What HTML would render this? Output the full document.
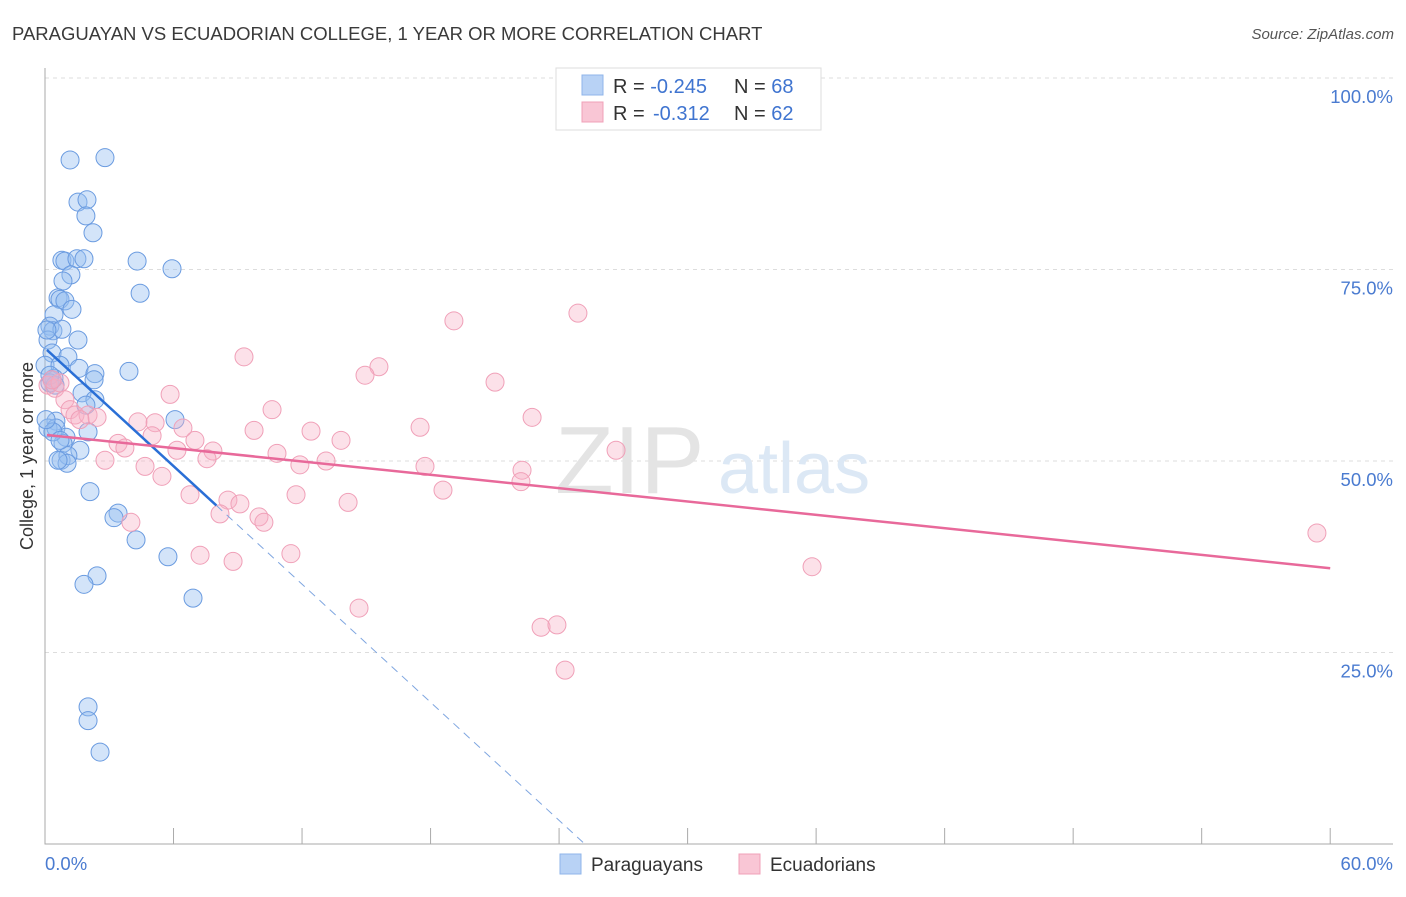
<!DOCTYPE html>
<html><head><meta charset="utf-8"><style>
body{margin:0;background:#fff;font-family:"Liberation Sans",sans-serif;}
svg text{font-family:"Liberation Sans",sans-serif;}
</style></head><body>
<svg id="chart" width="1406" height="892">
<text x="12" y="40" font-size="18.5" fill="#3a3a3a">PARAGUAYAN VS ECUADORIAN COLLEGE, 1 YEAR OR MORE CORRELATION CHART</text>
<text x="1394" y="39" font-size="15" fill="#555" font-style="italic" text-anchor="end">Source: ZipAtlas.com</text>
<g id="grid"></g>
<text x="555" y="493" font-size="96" fill="#e4e4e4" font-family="Liberation Serif">ZIP</text>
<text x="718" y="493" font-size="72" fill="#dce8f5">atlas</text>
<g id="marks"></g>
<text transform="translate(33,456) rotate(-90)" font-size="18" fill="#333" text-anchor="middle">College, 1 year or more</text>
<g>
<rect x="556" y="68" width="265" height="62" fill="#fff" stroke="#ddd"/>
<rect x="582" y="75" width="21" height="20" fill="#b8d2f5" stroke="#8fb4ea"/>
<rect x="582" y="102" width="21" height="20" fill="#f9c6d5" stroke="#f0a0b8"/>
<text x="613" y="93" font-size="20" fill="#333">R = <tspan fill="#3f74d0">-0.245</tspan><tspan x="734">N = </tspan><tspan fill="#3f74d0">68</tspan></text>
<text x="613" y="120" font-size="20" fill="#333">R = <tspan x="653" fill="#3f74d0">-0.312</tspan><tspan x="734">N = </tspan><tspan fill="#3f74d0">62</tspan></text>
</g>
<g>
<rect x="560" y="854" width="21" height="20" fill="#b8d2f5" stroke="#8fb4ea"/>
<text x="591" y="871" font-size="19" fill="#333">Paraguayans</text>
<rect x="739" y="854" width="21" height="20" fill="#f9c6d5" stroke="#f0a0b8"/>
<text x="770" y="871" font-size="19" fill="#333">Ecuadorians</text>
</g>
</svg>
<script>
const xTickLabels=["0.0%","60.0%"];
const yTicks=[25,50,75,100];
const yTickLabels=["25.0%","50.0%","75.0%","100.0%"];
const blueX=[1.17,2.80,1.54,1.96,1.91,2.24,0.79,0.93,1.49,1.82,4.30,5.93,1.21,0.84,4.44,0.61,0.70,0.93,1.26,0.42,0.23,0.37,0.79,1.54,0.14,0.33,1.07,0.0,0.70,1.59,2.33,2.29,3.92,0.42,0.23,0.47,1.73,2.33,1.91,6.07,0.51,0.14,0.51,2.01,0.98,0.84,1.63,0.75,1.07,1.03,2.10,3.41,3.22,4.25,5.74,2.43,1.82,6.91,2.01,2.01,2.57,0.37,0.23,0.33,0.61,0.05,0.09,0.70];
const blueY=[89.3,89.6,83.8,84.1,82.0,79.8,76.2,76.1,76.4,76.4,76.1,75.1,74.3,73.5,71.9,71.3,71.1,70.9,69.8,69.1,67.6,67.0,67.2,65.8,65.8,64.1,63.6,62.5,62.5,62.1,61.4,60.6,61.7,60.8,60.2,59.9,58.9,58.0,57.3,55.4,55.2,54.3,54.3,53.8,53.1,52.3,51.4,50.1,50.7,49.7,46.0,43.2,42.6,39.7,37.5,35.0,33.9,32.1,17.9,16.1,12.0,53.8,61.2,60.6,50.1,55.4,67.1,52.7];
const pinkX=[9.29,19.09,24.88,15.59,14.94,21.01,5.84,10.60,0.14,0.47,0.70,0.33,0.93,1.17,1.40,2.01,2.43,4.34,5.14,6.44,5.00,12.42,17.51,22.74,9.76,7.00,13.82,3.41,3.73,6.16,7.84,10.83,7.56,2.80,4.67,11.90,13.12,17.74,22.27,22.22,5.46,6.77,11.72,14.15,18.58,8.54,9.10,8.17,9.99,10.22,4.01,7.24,8.78,11.48,35.81,14.66,23.16,23.90,24.28,59.38,26.66,1.63];
const pinkY=[63.6,68.3,69.3,62.3,61.2,60.3,58.7,56.7,59.9,59.5,60.2,60.6,58.0,56.7,56.0,56.0,55.7,55.1,55.0,54.3,53.3,53.9,54.4,55.7,54.0,52.7,52.7,52.3,51.7,51.4,51.3,51.0,50.3,50.1,49.3,49.5,50.0,49.3,48.8,47.3,48.0,45.6,45.6,44.6,46.2,44.9,44.4,43.1,42.7,42.0,42.0,37.7,36.9,37.9,36.2,30.8,28.3,28.6,22.7,40.6,51.4,55.4];
const blueTrend=[0.09,64.5,8.0,44.2,25.2,0];
const pinkTrend=[0.09,53.4,60,36.0];
const NS="http://www.w3.org/2000/svg";
const X=v=>45+v*21.42, Y=v=>844-v*7.66;
const grid=document.getElementById('grid'), marks=document.getElementById('marks');
function mk(tag,attrs,parent){const e=document.createElementNS(NS,tag);for(const k in attrs)e.setAttribute(k,attrs[k]);parent.appendChild(e);return e;}
yTicks.forEach((t,i)=>{
 const l=mk('line',{x1:45,x2:1393,y1:Y(t),y2:Y(t),stroke:'#ddd','stroke-dasharray':'4,4'},grid);
 
 
 const tx=mk('text',{x:1393,y:Y(t)+25,'font-size':18.5,fill:'#4a7bd0','text-anchor':'end'},grid);
 tx.textContent=yTickLabels[i];
 
 
});
const ax=mk('path',{d:'M45,68V844H1393',stroke:'#aaa',fill:'none'},grid);


for(let i=0;i<=10;i++){
 const tk=mk('line',{x1:X(i*6),x2:X(i*6),y1:828,y2:844,stroke:'#aaa'},grid);
 
 
}
[[0,'start',45],[1,'end',1393]].forEach(([i,a,x])=>{
 const tx=mk('text',{x:x,y:870,'font-size':18.5,fill:'#4a7bd0','text-anchor':a},grid);
 tx.textContent=xTickLabels[i];
 
 
});
blueX.forEach((v,i)=>{
 const c=mk('circle',{cx:X(v),cy:Y(blueY[i]),r:9,fill:'rgba(150,190,240,0.42)',stroke:'#6a9be0','stroke-width':1},marks);
 
 
});
pinkX.forEach((v,i)=>{
 const c=mk('circle',{cx:X(v),cy:Y(pinkY[i]),r:9,fill:'rgba(248,175,198,0.38)',stroke:'#f0a0b8','stroke-width':1},marks);
 
 
});
const bl=mk('line',{x1:X(blueTrend[0]),y1:Y(blueTrend[1]),x2:X(blueTrend[2]),y2:Y(blueTrend[3]),stroke:'#2a6fd6','stroke-width':2.5},marks);


const bd=mk('line',{x1:X(blueTrend[2]),y1:Y(blueTrend[3]),x2:X(blueTrend[4]),y2:Y(blueTrend[5]),stroke:'#7fa6e0','stroke-width':1,'stroke-dasharray':'8,6'},marks);


const pl=mk('line',{x1:X(pinkTrend[0]),y1:Y(pinkTrend[1]),x2:X(pinkTrend[2]),y2:Y(pinkTrend[3]),stroke:'#e8699a','stroke-width':2.5},marks);


</script>
</body></html>
